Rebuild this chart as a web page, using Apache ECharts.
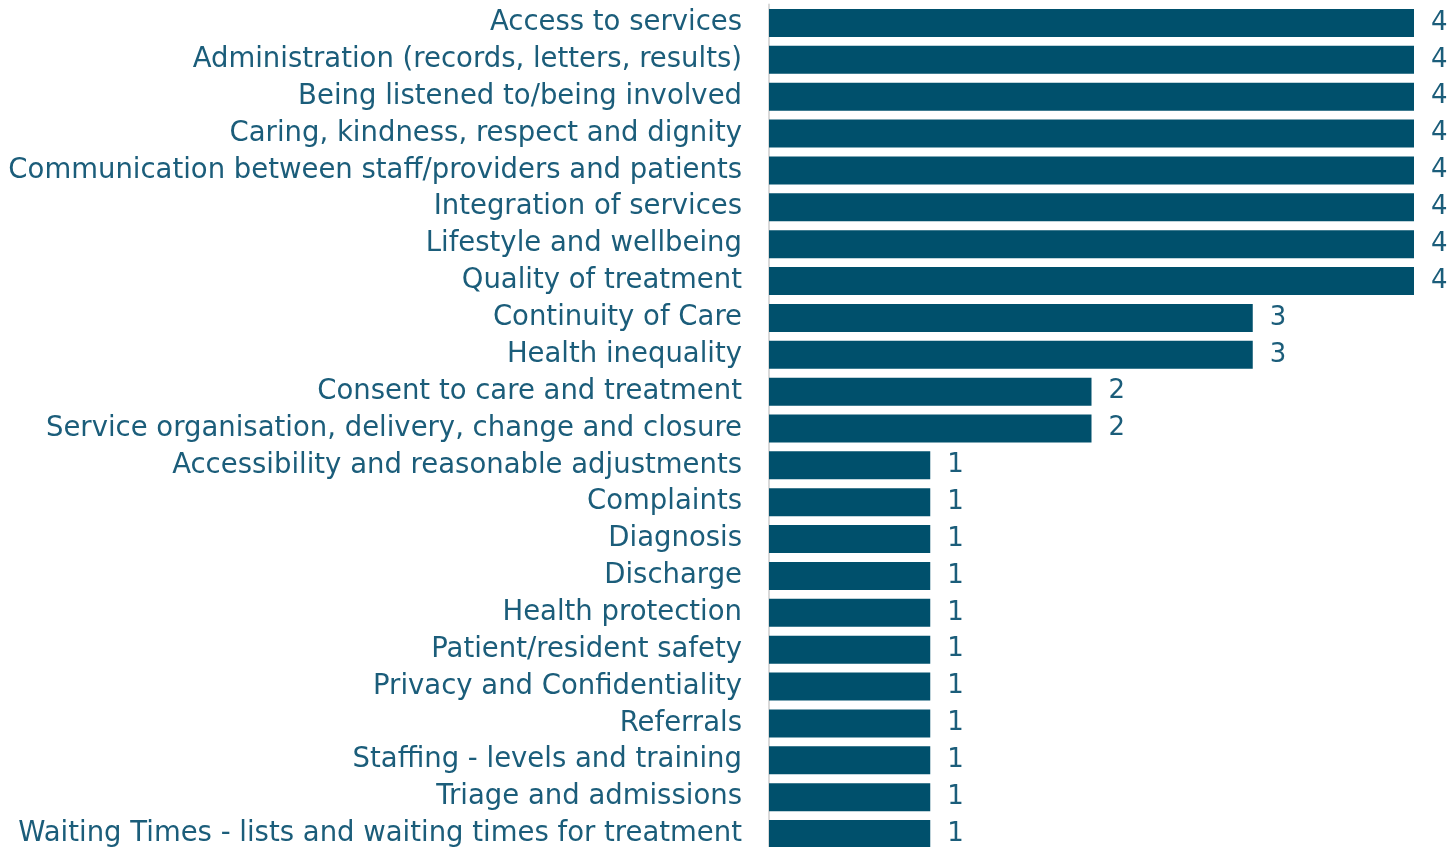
<!DOCTYPE html>
<html>
<head>
<meta charset="utf-8">
<style>
  html, body { margin: 0; padding: 0; background: #fff; }
  #chart { width: 1449px; height: 847px; }
</style>
<script src="https://cdn.jsdelivr.net/npm/echarts@6/dist/echarts.min.js"></script>
</head>
<body>
<div id="chart"></div>
<script>
// categories, top to bottom
var categories = [
    'Access to services',
    'Administration (records, letters, results)',
    'Being listened to/being involved',
    'Caring, kindness, respect and dignity',
    'Communication between staff/providers and patients',
    'Integration of services',
    'Lifestyle and wellbeing',
    'Quality of treatment',
    'Continuity of Care',
    'Health inequality',
    'Consent to care and treatment',
    'Service organisation, delivery, change and closure',
    'Accessibility and reasonable adjustments',
    'Complaints',
    'Diagnosis',
    'Discharge',
    'Health protection',
    'Patient/resident safety',
    'Privacy and Confidentiality',
    'Referrals',
    'Staffing - levels and training',
    'Triage and admissions',
    'Waiting Times - lists and waiting times for treatment'
];
var counts = [4, 4, 4, 4, 4, 4, 4, 4, 3, 3, 2, 2, 1, 1, 1, 1, 1, 1, 1, 1, 1, 1, 1];

var barColor = '#00506c';
var textColor = '#1b5d7a';

var chart = echarts.init(document.getElementById('chart'));
var option = {
    animation: false,
    grid: {
        left: 769,
        top: 4.5,
        width: 645,
        height: 848,
        outerBoundsMode: 'none' // let the last row run past the bottom edge
    },
    xAxis: {
        type: 'value',
        min: 0,
        max: 4,
        show: false
    },
    yAxis: {
        type: 'category',
        data: categories,
        inverse: true,
        axisLine: { show: true, lineStyle: { color: '#d9d9d9', width: 2 } },
        axisTick: { show: false },
        axisLabel: {
            color: textColor,
            fontSize: 27.5,
            fontFamily: 'DejaVu Sans',
            margin: 27
        }
    },
    series: [{
        type: 'bar',
        data: counts,
        barWidth: 28,
        itemStyle: { color: barColor },
        label: {
            show: true,
            position: 'right',
            distance: 17,
            color: textColor,
            fontSize: 26,
            fontFamily: 'DejaVu Sans'
        }
    }]
};
chart.setOption(option);
</script>
</body>
</html>
